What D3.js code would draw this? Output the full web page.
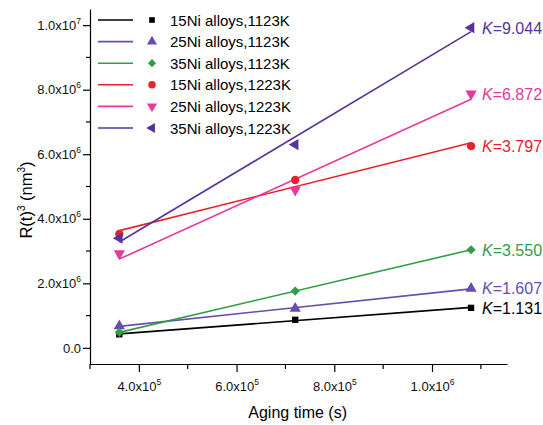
<!DOCTYPE html>
<html>
<head>
<meta charset="utf-8">
<script src="https://cdn.jsdelivr.net/npm/d3@7"></script>
<style>
  body { margin: 0; background: #fff; }
  svg { font-family: "Liberation Sans", Arial, sans-serif; }
</style>
</head>
<body>
<svg id="mainSVG"></svg>
<script>
// aging time (s)
let time = [3.6e5, 7.2e5, 1.08e6]

// R(t)^3 (nm^3) per alloy / temperature
let ni15_1123 = [0.42e6, 0.87e6, 1.24e6]
let ni25_1123 = [0.68e6, 1.22e6, 1.84e6]
let ni35_1123 = [0.48e6, 1.76e6, 3.04e6]
let ni15_1223 = [3.53e6, 5.20e6, 6.25e6]
let ni25_1223 = [2.92e6, 4.89e6, 7.87e6]
let ni35_1223 = [3.40e6, 6.30e6, 9.92e6]

let names = ['15Ni alloys,1123K', '25Ni alloys,1123K', '35Ni alloys,1123K',
             '15Ni alloys,1223K', '25Ni alloys,1223K', '35Ni alloys,1223K']
let kLabels = ['1.131', '1.607', '3.550', '3.797', '6.872', '9.044']

let xTicks = [4e5, 6e5, 8e5, 1e6]
let xMinor = [3e5, 5e5, 7e5, 9e5, 1.1e6]
let yTicks = [0, 2e6, 4e6, 6e6, 8e6, 1e7]
let yMinor = [1e6, 3e6, 5e6, 7e6, 9e6]

let colors = ['#000000', '#6a4cb0', '#2f9e44', '#e8222b', '#e8399b', '#57339a']
let shapes = [
    {type: d3.symbolSquare, size: 40, rot: 0},
    {type: d3.symbolTriangle, size: 55, rot: 0},
    {type: d3.symbolSquare, size: 42, rot: 45},
    {type: d3.symbolCircle, size: 55, rot: 0},
    {type: d3.symbolTriangle, size: 55, rot: 180},
    {type: d3.symbolTriangle, size: 55, rot: -90}
]

let seriesData = [ni15_1123, ni25_1123, ni35_1123, ni15_1223, ni25_1223, ni35_1223]
    .map((vals, i) => ({name: names[i], k: kLabels[i], color: colors[i], shape: shapes[i],
        pts: vals.map((v, j) => ({t: time[j], r: v}))}))

let w = 543, h = 425
let svg = d3.select('#mainSVG').attr('width', w).attr('height', h)

let x = d3.scaleLinear().domain([3e5, 1.1535e6]).range([90, 507])
let y = d3.scaleLinear().domain([-0.5e6, 10.5e6]).range([364, 9])

function sci(v){
    if (v === 0) return {m: '0.0', e: null}
    let e = Math.floor(Math.log10(v))
    return {m: (v / Math.pow(10, e)).toFixed(1) + 'x10', e: e}
}

function supLabels(sel){
    sel.selectAll('.tick text').each(function(d){
        let t = d3.select(this).text('')
        let s = sci(d)
        t.append('tspan').text(s.m)
        if (s.e !== null) t.append('tspan').attr('font-size', 8.5).attr('dy', -6).text(s.e)
    })
}

// axes
let gx = svg.append('g')
    .attr('transform', `translate(0, ${y.range()[0]})`)
    .call(d3.axisBottom(x).tickValues(xTicks).tickSize(8).tickSizeOuter(0))
gx.call(supLabels)
gx.selectAll('.tick text').attr('font-size', 13).attr('dy', '1.2em').attr('fill', '#111')

gx.selectAll('.minor')
    .data(xMinor)
    .join('line')
    .attr('class', 'minor')
    .attr('x1', d => x(d)).attr('x2', d => x(d))
    .attr('y1', 0).attr('y2', 5)
    .attr('stroke', '#000')

let gy = svg.append('g')
    .attr('transform', `translate(${x.range()[0]}, 0)`)
    .call(d3.axisLeft(y).tickValues(yTicks).tickSize(7).tickSizeOuter(0))
gy.call(supLabels)
gy.selectAll('.tick text').attr('font-size', 13).attr('fill', '#111').attr('x', -9)

gy.selectAll('.minor')
    .data(yMinor)
    .join('line')
    .attr('class', 'minor')
    .attr('x1', -4).attr('x2', 0)
    .attr('y1', d => y(d)).attr('y2', d => y(d))
    .attr('stroke', '#000')

svg.selectAll('.domain, .tick line').attr('stroke', '#000').attr('stroke-width', 1.2)
svg.selectAll('.minor').attr('stroke-width', 1.2)

// axis titles
svg.append('text')
    .attr('x', x(7.25e5)).attr('y', 418)
    .attr('text-anchor', 'middle')
    .attr('font-size', 16)
    .text('Aging time (s)')

let yt = svg.append('text')
    .attr('transform', 'translate(32, 200) rotate(-90)')
    .attr('text-anchor', 'middle')
    .attr('font-size', 16.5)
yt.append('tspan').text('R(t)')
yt.append('tspan').attr('font-size', 10).attr('dy', -7).text('3')
yt.append('tspan').attr('dy', 7).text(' (nm')
yt.append('tspan').attr('font-size', 10).attr('dy', -7).text('3')
yt.append('tspan').attr('dy', 7).text(')')

// linear fits
function fit(pts){
    let mx = d3.mean(pts, p => p.t), my = d3.mean(pts, p => p.r)
    let b = d3.sum(pts, p => (p.t - mx) * (p.r - my)) / d3.sum(pts, p => (p.t - mx) ** 2)
    let ends = d3.extent(pts, p => p.t)
    return ends.map(t => ({t: t, r: my + b * (t - mx)}))
}

let line = d3.line().x(d => x(d.t)).y(d => y(d.r))

let plot = svg.append('g')
plot.selectAll('.fit')
    .data(seriesData)
    .join('path')
    .attr('class', 'fit')
    .attr('fill', 'none')
    .attr('stroke', d => d.color)
    .attr('stroke-width', 1.6)
    .attr('d', d => line(fit(d.pts)))

let sym = d3.symbol()
seriesData.forEach(s => {
    plot.append('g').selectAll('path')
        .data(s.pts)
        .join('path')
        .attr('transform', p => `translate(${x(p.t)}, ${y(p.r)}) rotate(${s.shape.rot})`)
        .attr('d', sym.type(s.shape.type).size(s.shape.size)())
        .attr('fill', s.color)
})

// K labels
let kt = svg.selectAll('.klab')
    .data(seriesData)
    .join('text')
    .attr('class', 'klab')
    .attr('x', 482)
    .attr('y', d => y(d.pts[2].r) + 6)
    .attr('font-size', 16)
    .attr('fill', d => d.color)
kt.append('tspan').attr('font-style', 'italic').text('K')
kt.append('tspan').text(d => '=' + d.k)

// legend
let leg = svg.append('g')
    .selectAll('g')
    .data(seriesData)
    .join('g')
    .attr('transform', (d, i) => `translate(0, ${20 + i * 21.6})`)

leg.append('line')
    .attr('x1', 98).attr('x2', 133)
    .attr('stroke', d => d.color)
    .attr('stroke-width', 1.6)
leg.append('path')
    .attr('transform', d => `translate(152, 0) rotate(${d.shape.rot})`)
    .attr('d', d => sym.type(d.shape.type).size(d.shape.size * 0.8)())
    .attr('fill', d => d.color)
leg.append('text')
    .attr('x', 170).attr('y', 5.5)
    .attr('font-size', 15)
    .text(d => d.name)
</script>
</body>
</html>
